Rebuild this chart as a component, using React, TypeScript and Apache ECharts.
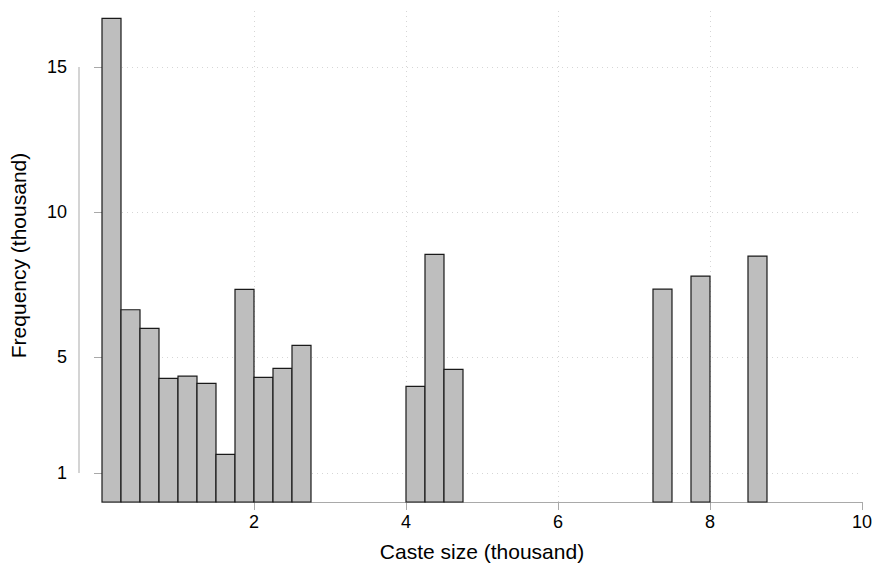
import React, { useEffect, useRef } from "react";
import * as echarts from "echarts";

// Histogram bins (left edge, thousand) and frequencies (thousand)
const binStarts: number[] = [0, 0.25, 0.5, 0.75, 1.0, 1.25, 1.5, 1.75, 2.0, 2.25, 2.5, 4.0, 4.25, 4.5, 7.25, 7.75, 8.5];
const frequencies: number[] = [16.68, 6.63, 5.99, 4.26, 4.34, 4.09, 1.64, 7.33, 4.3, 4.61, 5.4, 3.99, 8.54, 4.57, 7.34, 7.79, 8.48];
const binWidth = 0.25;
const xTicks: number[] = [2, 4, 6, 8, 10];
const xGridValues: number[] = [2, 4, 6, 8];
const yTicks: number[] = [1, 5, 10, 15];

const FONT = '"Liberation Sans", Arial, Helvetica, sans-serif';
const AXIS_GRAY = "#a9a9a9";
const Y_OFFSET = 23;

export default function App() {
  const ref = useRef<HTMLDivElement>(null);
  useEffect(() => {
    if (!ref.current) return;
    const chart = echarts.init(ref.current, undefined, { renderer: "svg" });
    const barData = binStarts.map((s, i) => [s, s + binWidth, frequencies[i]]);
    const gridMarks = [
      ...xGridValues.map((v) => ({ xAxis: v })),
      ...yTicks.map((v) => ({ yAxis: v })),
    ];
    chart.setOption({
      animation: false,
      backgroundColor: "#ffffff",
      textStyle: { fontFamily: FONT },
      grid: { left: 102, right: 11, top: 9, bottom: 68, containLabel: false },
      xAxis: {
        type: "value",
        min: 0,
        max: 10,
        interval: 2,
        name: "Caste size (thousand)",
        nameLocation: "middle",
        nameGap: 39,
        nameTextStyle: { fontSize: 21, color: "#000", fontFamily: FONT },
        axisLine: { show: true, lineStyle: { color: AXIS_GRAY, width: 1 } },
        axisTick: { show: true, length: 8, customValues: xTicks, lineStyle: { color: AXIS_GRAY } },
        axisLabel: { customValues: xTicks, fontSize: 18, color: "#000", margin: 11, fontFamily: FONT },
        splitLine: { show: false },
      },
      yAxis: {
        type: "value",
        min: 0,
        max: 17,
        offset: Y_OFFSET,
        name: "Frequency (thousand)",
        nameLocation: "middle",
        nameGap: 50,
        nameTextStyle: { fontSize: 21, color: "#000", fontFamily: FONT },
        axisLine: { show: false },
        axisTick: { show: true, length: 8, customValues: yTicks, lineStyle: { color: AXIS_GRAY } },
        axisLabel: { customValues: yTicks, fontSize: 18, color: "#000", margin: 12, fontFamily: FONT },
        splitLine: { show: false },
      },
      series: [
        {
          type: "custom",
          name: "bars",
          z: 3,
          data: barData,
          encode: { x: [0, 1], y: 2 },
          renderItem: (params: any, api: any) => {
            const p0 = api.coord([api.value(0), api.value(2)]);
            const p1 = api.coord([api.value(1), 0]);
            return {
              type: "rect",
              shape: { x: p0[0], y: p0[1], width: p1[0] - p0[0], height: p1[1] - p0[1] },
              style: { fill: "#bebebe", stroke: "#1a1a1a", lineWidth: 1.2 },
            };
          },
          markLine: {
            silent: true,
            z: 1,
            symbol: "none",
            label: { show: false },
            lineStyle: { color: "#d6d6d6", type: [1, 4], width: 1 },
            data: gridMarks,
          },
        },
        {
          type: "custom",
          name: "yAxisLine",
          z: 2,
          clip: false,
          silent: true,
          data: [[0, yTicks[0], yTicks[yTicks.length - 1]]],
          renderItem: (params: any, api: any) => {
            const a = api.coord([0, api.value(1)]);
            const b = api.coord([0, api.value(2)]);
            const x = a[0] - Y_OFFSET;
            return {
              type: "line",
              shape: { x1: x, y1: a[1], x2: x, y2: b[1] },
              style: { stroke: AXIS_GRAY, lineWidth: 1 },
            };
          },
        },
      ],
    });
    return () => chart.dispose();
  }, []);
  return (
    <div
      ref={ref}
      style={{ position: "fixed", left: 0, top: 0, width: 875, height: 570, background: "#fff" }}
    />
  );
}
